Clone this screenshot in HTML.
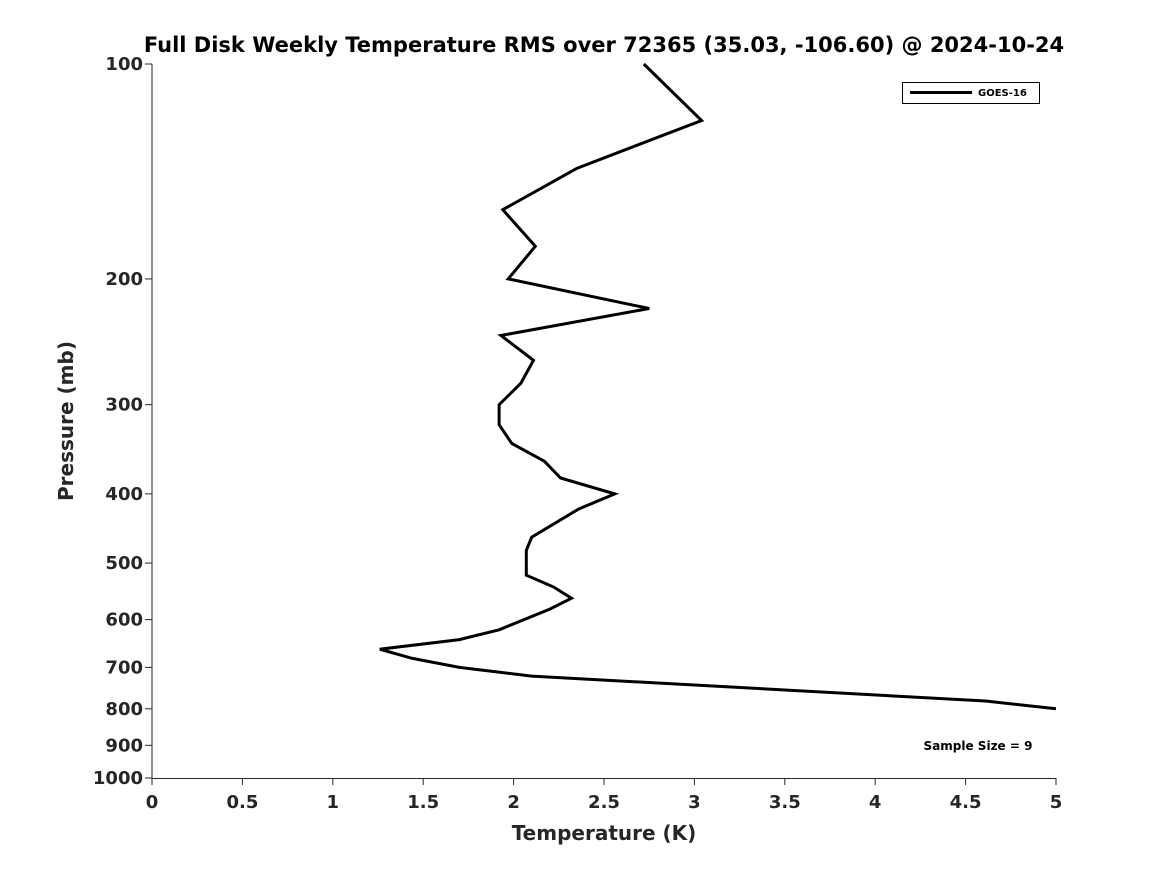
<!DOCTYPE html>
<html><head><meta charset="utf-8"><style>
body{margin:0;background:#fff;}
svg{display:block;font-family:"DejaVu Sans","Liberation Sans",sans-serif;}
</style></head><body>
<svg id="chart" width="1167" height="875">
<text x="604" y="52" text-anchor="middle" font-size="21" font-weight="bold">Full Disk Weekly Temperature RMS over 72365 (35.03, -106.60) @ 2024-10-24</text>
<g id="axes"></g>
<text x="604" y="840" text-anchor="middle" font-size="20" font-weight="bold" fill="#262626">Temperature (K)</text>
<text transform="translate(73,421) rotate(-90)" text-anchor="middle" font-size="20" font-weight="bold" fill="#262626">Pressure (mb)</text>
<g>
<rect x="902.5" y="82.5" width="137" height="21" fill="#fff" stroke="#000" stroke-width="1"/>
<line x1="910" y1="92.5" x2="972" y2="92.5" stroke="#000" stroke-width="3"/>
<text x="978" y="96" font-size="10" font-weight="bold">GOES-16</text>
</g>
<text x="978" y="750" text-anchor="middle" font-size="12" font-weight="bold">Sample Size = 9</text>
</svg>
<script>
const pressures=[100,120,140,160,180,200,220,240,260,280,300,320,340,360,380,400,420,460,480,500,520,540,560,580,620,640,660,680,700,720,780,800];
const temps=[2.72,3.04,2.35,1.94,2.12,1.97,2.75,1.93,2.11,2.04,1.92,1.92,1.99,2.17,2.26,2.56,2.36,2.10,2.07,2.07,2.07,2.22,2.32,2.20,1.92,1.70,1.26,1.44,1.70,2.10,4.61,5.0];
const xTicks=[0,0.5,1,1.5,2,2.5,3,3.5,4,4.5,5];
const yTicks=[100,200,300,400,500,600,700,800,900,1000];
const L=152,R=1056,T=64,B=778;
const xs=v=>L+(v-0)/(5-0)*(R-L);
const ys=p=>T+(Math.log10(p)-2)/(3-2)*(B-T);
const NS="http://www.w3.org/2000/svg";
const svg=document.getElementById('chart');
const ax=document.getElementById('axes');
function mk(tag,attrs,parent){const e=document.createElementNS(NS,tag);for(const k in attrs)e.setAttribute(k,attrs[k]);(parent||ax).appendChild(e);return e;}
let a=mk('line',{x1:L,y1:T,x2:L,y2:B+0.5,stroke:'#262626','stroke-width':1});


a=mk('line',{x1:L,y1:B+0.5,x2:R,y2:B+0.5,stroke:'#262626','stroke-width':1});


xTicks.forEach(v=>{const x=xs(v);
 const t=mk('line',{x1:x,y1:B,x2:x,y2:B+7,stroke:'#262626'});
 
 
 const l=mk('text',{x:x,y:808,'text-anchor':'middle','font-size':18,'font-weight':'bold',fill:'#262626'});
 l.textContent=String(v);
 
 
});
yTicks.forEach(p=>{const y=ys(p);
 const t=mk('line',{x1:L-7,y1:y,x2:L,y2:y,stroke:'#262626'});
 
 
 const l=mk('text',{x:143,y:y+6,'text-anchor':'end','font-size':18,'font-weight':'bold',fill:'#262626'});
 l.textContent=String(p);
 
 
});
const pts=temps.map((t,i)=>xs(t).toFixed(1)+','+ys(pressures[i]).toFixed(1)).join(' ');
const pl=mk('polyline',{points:pts,fill:'none',stroke:'#000','stroke-width':3,'stroke-linejoin':'miter'},svg);


</script>
</body></html>
